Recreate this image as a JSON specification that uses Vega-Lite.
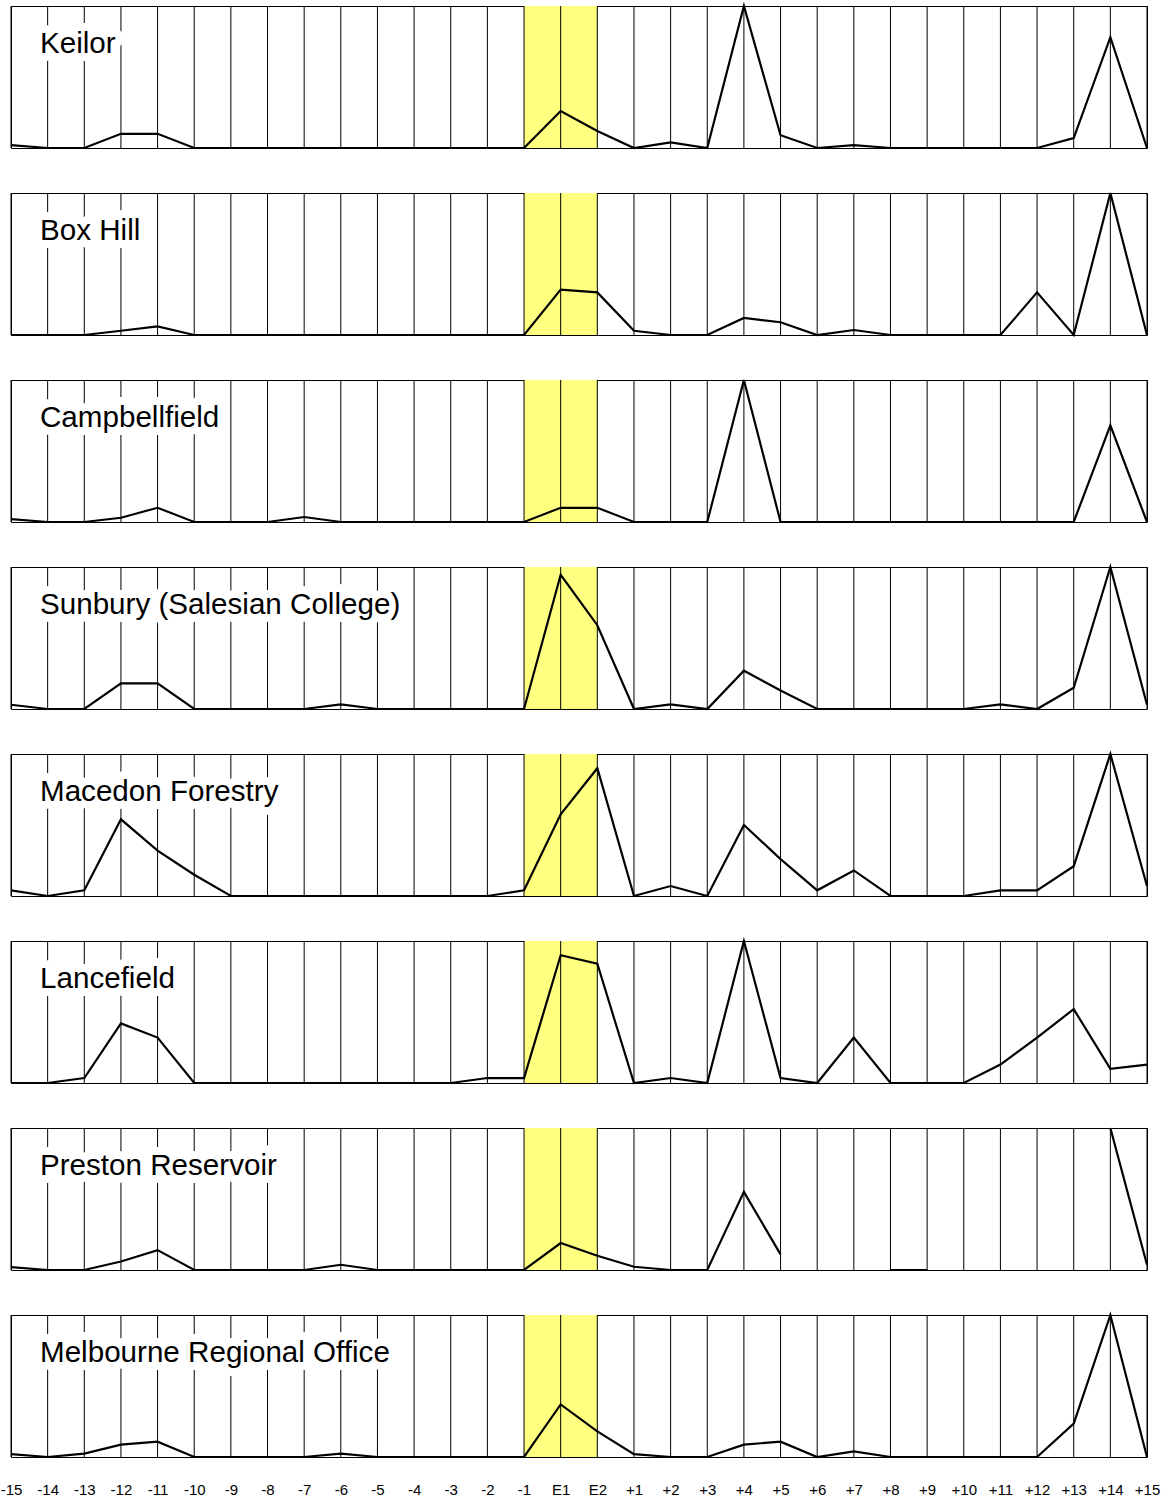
{
  "$schema": "https://vega.github.io/schema/vega-lite/v6.json",
  "background": "white",
  "padding": {"left": 0, "top": 1, "right": 5, "bottom": 5},
  "bounds": "flush",
  "data": {"values": [
      {"station":"Keilor","x":"-15","v":2},{"station":"Keilor","x":"-14","v":0},{"station":"Keilor","x":"-13","v":0},{"station":"Keilor","x":"-12","v":10},{"station":"Keilor","x":"-11","v":10},{"station":"Keilor","x":"-10","v":0},{"station":"Keilor","x":"-9","v":0},{"station":"Keilor","x":"-8","v":0},{"station":"Keilor","x":"-7","v":0},{"station":"Keilor","x":"-6","v":0},{"station":"Keilor","x":"-5","v":0},{"station":"Keilor","x":"-4","v":0},{"station":"Keilor","x":"-3","v":0},{"station":"Keilor","x":"-2","v":0},{"station":"Keilor","x":"-1","v":0},{"station":"Keilor","x":"E1","v":26},{"station":"Keilor","x":"E2","v":12},{"station":"Keilor","x":"+1","v":0},{"station":"Keilor","x":"+2","v":4},{"station":"Keilor","x":"+3","v":0},{"station":"Keilor","x":"+4","v":100},{"station":"Keilor","x":"+5","v":9},{"station":"Keilor","x":"+6","v":0},{"station":"Keilor","x":"+7","v":2},{"station":"Keilor","x":"+8","v":0},{"station":"Keilor","x":"+9","v":0},{"station":"Keilor","x":"+10","v":0},{"station":"Keilor","x":"+11","v":0},{"station":"Keilor","x":"+12","v":0},{"station":"Keilor","x":"+13","v":7},{"station":"Keilor","x":"+14","v":78},{"station":"Keilor","x":"+15","v":0},
      {"station":"Box Hill","x":"-15","v":0},{"station":"Box Hill","x":"-14","v":0},{"station":"Box Hill","x":"-13","v":0},{"station":"Box Hill","x":"-12","v":3},{"station":"Box Hill","x":"-11","v":6},{"station":"Box Hill","x":"-10","v":0},{"station":"Box Hill","x":"-9","v":0},{"station":"Box Hill","x":"-8","v":0},{"station":"Box Hill","x":"-7","v":0},{"station":"Box Hill","x":"-6","v":0},{"station":"Box Hill","x":"-5","v":0},{"station":"Box Hill","x":"-4","v":0},{"station":"Box Hill","x":"-3","v":0},{"station":"Box Hill","x":"-2","v":0},{"station":"Box Hill","x":"-1","v":0},{"station":"Box Hill","x":"E1","v":32},{"station":"Box Hill","x":"E2","v":30},{"station":"Box Hill","x":"+1","v":3},{"station":"Box Hill","x":"+2","v":0},{"station":"Box Hill","x":"+3","v":0},{"station":"Box Hill","x":"+4","v":12},{"station":"Box Hill","x":"+5","v":9},{"station":"Box Hill","x":"+6","v":0},{"station":"Box Hill","x":"+7","v":3.5},{"station":"Box Hill","x":"+8","v":0},{"station":"Box Hill","x":"+9","v":0},{"station":"Box Hill","x":"+10","v":0},{"station":"Box Hill","x":"+11","v":0},{"station":"Box Hill","x":"+12","v":30},{"station":"Box Hill","x":"+13","v":0},{"station":"Box Hill","x":"+14","v":100},{"station":"Box Hill","x":"+15","v":0},
      {"station":"Campbellfield","x":"-15","v":2},{"station":"Campbellfield","x":"-14","v":0},{"station":"Campbellfield","x":"-13","v":0},{"station":"Campbellfield","x":"-12","v":3},{"station":"Campbellfield","x":"-11","v":10},{"station":"Campbellfield","x":"-10","v":0},{"station":"Campbellfield","x":"-9","v":0},{"station":"Campbellfield","x":"-8","v":0},{"station":"Campbellfield","x":"-7","v":3.5},{"station":"Campbellfield","x":"-6","v":0},{"station":"Campbellfield","x":"-5","v":0},{"station":"Campbellfield","x":"-4","v":0},{"station":"Campbellfield","x":"-3","v":0},{"station":"Campbellfield","x":"-2","v":0},{"station":"Campbellfield","x":"-1","v":0},{"station":"Campbellfield","x":"E1","v":10},{"station":"Campbellfield","x":"E2","v":10},{"station":"Campbellfield","x":"+1","v":0},{"station":"Campbellfield","x":"+2","v":0},{"station":"Campbellfield","x":"+3","v":0},{"station":"Campbellfield","x":"+4","v":100},{"station":"Campbellfield","x":"+5","v":0},{"station":"Campbellfield","x":"+6","v":0},{"station":"Campbellfield","x":"+7","v":0},{"station":"Campbellfield","x":"+8","v":0},{"station":"Campbellfield","x":"+9","v":0},{"station":"Campbellfield","x":"+10","v":0},{"station":"Campbellfield","x":"+11","v":0},{"station":"Campbellfield","x":"+12","v":0},{"station":"Campbellfield","x":"+13","v":0},{"station":"Campbellfield","x":"+14","v":68},{"station":"Campbellfield","x":"+15","v":0},
      {"station":"Sunbury (Salesian College)","x":"-15","v":3},{"station":"Sunbury (Salesian College)","x":"-14","v":0},{"station":"Sunbury (Salesian College)","x":"-13","v":0},{"station":"Sunbury (Salesian College)","x":"-12","v":18},{"station":"Sunbury (Salesian College)","x":"-11","v":18},{"station":"Sunbury (Salesian College)","x":"-10","v":0},{"station":"Sunbury (Salesian College)","x":"-9","v":0},{"station":"Sunbury (Salesian College)","x":"-8","v":0},{"station":"Sunbury (Salesian College)","x":"-7","v":0},{"station":"Sunbury (Salesian College)","x":"-6","v":3.3},{"station":"Sunbury (Salesian College)","x":"-5","v":0},{"station":"Sunbury (Salesian College)","x":"-4","v":0},{"station":"Sunbury (Salesian College)","x":"-3","v":0},{"station":"Sunbury (Salesian College)","x":"-2","v":0},{"station":"Sunbury (Salesian College)","x":"-1","v":0},{"station":"Sunbury (Salesian College)","x":"E1","v":94.5},{"station":"Sunbury (Salesian College)","x":"E2","v":59},{"station":"Sunbury (Salesian College)","x":"+1","v":0},{"station":"Sunbury (Salesian College)","x":"+2","v":3.3},{"station":"Sunbury (Salesian College)","x":"+3","v":0},{"station":"Sunbury (Salesian College)","x":"+4","v":27},{"station":"Sunbury (Salesian College)","x":"+5","v":13},{"station":"Sunbury (Salesian College)","x":"+6","v":0},{"station":"Sunbury (Salesian College)","x":"+7","v":0},{"station":"Sunbury (Salesian College)","x":"+8","v":0},{"station":"Sunbury (Salesian College)","x":"+9","v":0},{"station":"Sunbury (Salesian College)","x":"+10","v":0},{"station":"Sunbury (Salesian College)","x":"+11","v":3.3},{"station":"Sunbury (Salesian College)","x":"+12","v":0},{"station":"Sunbury (Salesian College)","x":"+13","v":15},{"station":"Sunbury (Salesian College)","x":"+14","v":100},{"station":"Sunbury (Salesian College)","x":"+15","v":3},
      {"station":"Macedon Forestry","x":"-15","v":4},{"station":"Macedon Forestry","x":"-14","v":0},{"station":"Macedon Forestry","x":"-13","v":4},{"station":"Macedon Forestry","x":"-12","v":54},{"station":"Macedon Forestry","x":"-11","v":32},{"station":"Macedon Forestry","x":"-10","v":15},{"station":"Macedon Forestry","x":"-9","v":0},{"station":"Macedon Forestry","x":"-8","v":0},{"station":"Macedon Forestry","x":"-7","v":0},{"station":"Macedon Forestry","x":"-6","v":0},{"station":"Macedon Forestry","x":"-5","v":0},{"station":"Macedon Forestry","x":"-4","v":0},{"station":"Macedon Forestry","x":"-3","v":0},{"station":"Macedon Forestry","x":"-2","v":0},{"station":"Macedon Forestry","x":"-1","v":4},{"station":"Macedon Forestry","x":"E1","v":57.5},{"station":"Macedon Forestry","x":"E2","v":90},{"station":"Macedon Forestry","x":"+1","v":0},{"station":"Macedon Forestry","x":"+2","v":7},{"station":"Macedon Forestry","x":"+3","v":0},{"station":"Macedon Forestry","x":"+4","v":50},{"station":"Macedon Forestry","x":"+5","v":26},{"station":"Macedon Forestry","x":"+6","v":4},{"station":"Macedon Forestry","x":"+7","v":18},{"station":"Macedon Forestry","x":"+8","v":0},{"station":"Macedon Forestry","x":"+9","v":0},{"station":"Macedon Forestry","x":"+10","v":0},{"station":"Macedon Forestry","x":"+11","v":4},{"station":"Macedon Forestry","x":"+12","v":4},{"station":"Macedon Forestry","x":"+13","v":21},{"station":"Macedon Forestry","x":"+14","v":100},{"station":"Macedon Forestry","x":"+15","v":7},
      {"station":"Lancefield","x":"-15","v":0},{"station":"Lancefield","x":"-14","v":0},{"station":"Lancefield","x":"-13","v":3.5},{"station":"Lancefield","x":"-12","v":42},{"station":"Lancefield","x":"-11","v":32},{"station":"Lancefield","x":"-10","v":0},{"station":"Lancefield","x":"-9","v":0},{"station":"Lancefield","x":"-8","v":0},{"station":"Lancefield","x":"-7","v":0},{"station":"Lancefield","x":"-6","v":0},{"station":"Lancefield","x":"-5","v":0},{"station":"Lancefield","x":"-4","v":0},{"station":"Lancefield","x":"-3","v":0},{"station":"Lancefield","x":"-2","v":3.5},{"station":"Lancefield","x":"-1","v":3.5},{"station":"Lancefield","x":"E1","v":90},{"station":"Lancefield","x":"E2","v":84},{"station":"Lancefield","x":"+1","v":0},{"station":"Lancefield","x":"+2","v":3.5},{"station":"Lancefield","x":"+3","v":0},{"station":"Lancefield","x":"+4","v":100},{"station":"Lancefield","x":"+5","v":3.5},{"station":"Lancefield","x":"+6","v":0},{"station":"Lancefield","x":"+7","v":32},{"station":"Lancefield","x":"+8","v":0},{"station":"Lancefield","x":"+9","v":0},{"station":"Lancefield","x":"+10","v":0},{"station":"Lancefield","x":"+11","v":13},{"station":"Lancefield","x":"+12","v":32},{"station":"Lancefield","x":"+13","v":52},{"station":"Lancefield","x":"+14","v":10},{"station":"Lancefield","x":"+15","v":13},
      {"station":"Preston Reservoir","x":"-15","v":2},{"station":"Preston Reservoir","x":"-14","v":0},{"station":"Preston Reservoir","x":"-13","v":0},{"station":"Preston Reservoir","x":"-12","v":6},{"station":"Preston Reservoir","x":"-11","v":14},{"station":"Preston Reservoir","x":"-10","v":0},{"station":"Preston Reservoir","x":"-9","v":0},{"station":"Preston Reservoir","x":"-8","v":0},{"station":"Preston Reservoir","x":"-7","v":0},{"station":"Preston Reservoir","x":"-6","v":3.7},{"station":"Preston Reservoir","x":"-5","v":0},{"station":"Preston Reservoir","x":"-4","v":0},{"station":"Preston Reservoir","x":"-3","v":0},{"station":"Preston Reservoir","x":"-2","v":0},{"station":"Preston Reservoir","x":"-1","v":0},{"station":"Preston Reservoir","x":"E1","v":19},{"station":"Preston Reservoir","x":"E2","v":10},{"station":"Preston Reservoir","x":"+1","v":2.3},{"station":"Preston Reservoir","x":"+2","v":0},{"station":"Preston Reservoir","x":"+3","v":0},{"station":"Preston Reservoir","x":"+4","v":55},{"station":"Preston Reservoir","x":"+5","v":11},{"station":"Preston Reservoir","x":"+6","v":null},{"station":"Preston Reservoir","x":"+7","v":null},{"station":"Preston Reservoir","x":"+8","v":0},{"station":"Preston Reservoir","x":"+9","v":0},{"station":"Preston Reservoir","x":"+10","v":null},{"station":"Preston Reservoir","x":"+11","v":null},{"station":"Preston Reservoir","x":"+12","v":null},{"station":"Preston Reservoir","x":"+13","v":null},{"station":"Preston Reservoir","x":"+14","v":100},{"station":"Preston Reservoir","x":"+15","v":3.7},
      {"station":"Melbourne Regional Office","x":"-15","v":2},{"station":"Melbourne Regional Office","x":"-14","v":0},{"station":"Melbourne Regional Office","x":"-13","v":2.4},{"station":"Melbourne Regional Office","x":"-12","v":8.7},{"station":"Melbourne Regional Office","x":"-11","v":10.8},{"station":"Melbourne Regional Office","x":"-10","v":0},{"station":"Melbourne Regional Office","x":"-9","v":0},{"station":"Melbourne Regional Office","x":"-8","v":0},{"station":"Melbourne Regional Office","x":"-7","v":0},{"station":"Melbourne Regional Office","x":"-6","v":2.4},{"station":"Melbourne Regional Office","x":"-5","v":0},{"station":"Melbourne Regional Office","x":"-4","v":0},{"station":"Melbourne Regional Office","x":"-3","v":0},{"station":"Melbourne Regional Office","x":"-2","v":0},{"station":"Melbourne Regional Office","x":"-1","v":0},{"station":"Melbourne Regional Office","x":"E1","v":37},{"station":"Melbourne Regional Office","x":"E2","v":18},{"station":"Melbourne Regional Office","x":"+1","v":2},{"station":"Melbourne Regional Office","x":"+2","v":0},{"station":"Melbourne Regional Office","x":"+3","v":0},{"station":"Melbourne Regional Office","x":"+4","v":8.7},{"station":"Melbourne Regional Office","x":"+5","v":10.8},{"station":"Melbourne Regional Office","x":"+6","v":0},{"station":"Melbourne Regional Office","x":"+7","v":4},{"station":"Melbourne Regional Office","x":"+8","v":0},{"station":"Melbourne Regional Office","x":"+9","v":0},{"station":"Melbourne Regional Office","x":"+10","v":0},{"station":"Melbourne Regional Office","x":"+11","v":0},{"station":"Melbourne Regional Office","x":"+12","v":0},{"station":"Melbourne Regional Office","x":"+13","v":23.5},{"station":"Melbourne Regional Office","x":"+14","v":100},{"station":"Melbourne Regional Office","x":"+15","v":0}
  ]},
  "facet": {
    "row": {
      "field": "station",
      "type": "nominal",
      "sort": ["Keilor","Box Hill","Campbellfield","Sunbury (Salesian College)","Macedon Forestry","Lancefield","Preston Reservoir","Melbourne Regional Office"],
      "header": {"labels": false, "title": null}
    }
  },
  "spacing": {"row": 45},
  "spec": {
    "width": 1136,
    "height": 142,
    "encoding": {
      "x": {
        "field": "x",
        "type": "ordinal",
        "title": null,
        "sort": ["-15","-14","-13","-12","-11","-10","-9","-8","-7","-6","-5","-4","-3","-2","-1","E1","E2","+1","+2","+3","+4","+5","+6","+7","+8","+9","+10","+11","+12","+13","+14","+15"],
        "scale": {"type": "point", "padding": 0},
        "axis": {"labelAngle": 0, "labelFontSize": 15, "labelColor": "black", "ticks": false, "domain": false, "grid": false, "labelPadding": 25}
      }
    },
    "layer": [
      {
        "transform": [{"filter": "datum.x === 'E1'"}],
        "mark": {"type": "bar", "color": "#ffff80", "width": 73.3, "opacity": 1},
        "encoding": {}
      },
      {
        "mark": {"type": "rule", "color": "black", "strokeWidth": 1},
        "encoding": {}
      },
      {
        "transform": [{"filter": "datum.x === '-15'"}],
        "mark": {"type": "text", "align": "left", "baseline": "alphabetic", "dx": 29, "y": 47, "fontSize": 29.6, "fill": "white", "stroke": "white", "strokeWidth": 16, "strokeJoin": "round"},
        "encoding": {"text": {"field": "station", "type": "nominal"}}
      },
      {
        "transform": [{"filter": "datum.x === '-15'"}],
        "mark": {"type": "text", "align": "left", "baseline": "alphabetic", "dx": 29, "y": 47, "fontSize": 29.6, "fill": "black"},
        "encoding": {"text": {"field": "station", "type": "nominal"}}
      },
      {
        "mark": {"type": "line", "color": "black", "strokeWidth": 2.2},
        "encoding": {
          "y": {"field": "v", "type": "quantitative", "scale": {"domain": [0, 100], "nice": false}, "axis": null}
        }
      }
    ]
  },
  "config": {
    "view": {"stroke": "black", "strokeWidth": 1},
    "font": "Liberation Sans"
  }
}
